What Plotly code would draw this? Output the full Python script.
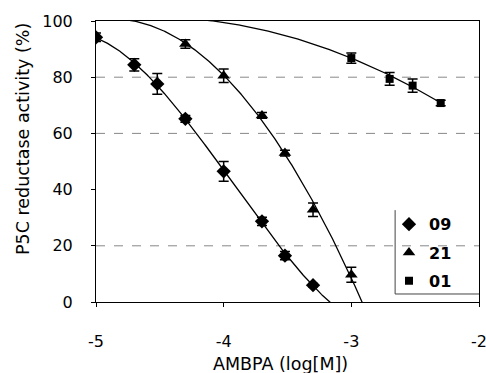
import numpy as np
import plotly.graph_objects as go

# ---- data ----
x09 = [-5.0, -4.7, -4.52, -4.3, -4.0, -3.7, -3.52, -3.3]
y09 = [94.2, 84.4, 77.6, 65.2, 46.5, 28.7, 16.5, 6.0]
e09 = [1.5, 2.2, 3.7, 1.2, 3.5, 1.5, 1.5, 0.6]

x21 = [-4.3, -4.0, -3.7, -3.52, -3.3, -3.0]
y21 = [91.8, 80.5, 66.4, 53.0, 32.8, 9.7]
e21 = [1.5, 2.4, 1.0, 1.0, 2.4, 2.7]

x01 = [-3.0, -2.7, -2.52, -2.3]
y01 = [86.8, 79.4, 77.0, 70.8]
e01 = [1.8, 2.3, 2.4, 1.0]

# trend curve of series 01 as traced on the picture (extends back beyond the data)
trend01_x = [-4.08, -3.0, -2.3]
trend01_y = [100.0, 86.8, 70.9]

names = ["09", "21", "01"]
symbols = ["diamond", "triangle-up", "square"]
msizes = [11, 11, 8]

x_ticks = [-5, -4, -3, -2]
x_ticktext = ["-5", "-4", "-3", "-2"]
y_ticks = [0, 20, 40, 60, 80, 100]
grid_levels = [20, 60, 80]

series = [(x09, y09, e09), (x21, y21, e21), (x01, y01, e01)]

# polynomial trend curves
fits = [
    (x09, y09, 3, (-5.0, -3.0)),
    (x21, y21, 2, (-4.9, -2.85)),
    (trend01_x, trend01_y, 2, (-4.3, -2.3)),
]

fig = go.Figure()

for xs, ys, deg, (a, b) in fits:
    coef = np.polyfit(xs, ys, deg)
    xx = np.linspace(a, b, 300)
    yy = np.polyval(coef, xx)
    fig.add_trace(go.Scatter(x=xx, y=yy, mode="lines",
                             line=dict(color="black", width=1.3),
                             showlegend=False, hoverinfo="skip"))

for (xs, ys, es), nm, sym, ms in zip(series, names, symbols, msizes):
    fig.add_trace(go.Scatter(
        x=xs, y=ys, mode="markers", name=nm, legendgroup=nm,
        marker=dict(symbol=sym, size=ms, color="black"),
        error_y=dict(type="data", array=es, visible=True,
                     color="black", thickness=1.5, width=5),
    ))

shapes = []
for g in grid_levels:
    shapes.append(dict(type="line", xref="paper", x0=0, x1=1, yref="y", y0=g, y1=g,
                       line=dict(color="#888888", width=1, dash="dash"), layer="below"))
# legend frame (left and bottom edges)
shapes.append(dict(type="line", xref="paper", yref="paper", x0=0.781, x1=0.781,
                   y0=0.0285, y1=0.327, line=dict(color="#444444", width=1)))
shapes.append(dict(type="line", xref="paper", yref="paper", x0=0.781, x1=1.0,
                   y0=0.0285, y1=0.0285, line=dict(color="#444444", width=1)))

font_family = "DejaVu Sans, Liberation Sans, Arial, sans-serif"

annotations = [
    dict(text="AMBPA (log[M])", xref="paper", yref="paper", x=0.483, y=-0.219,
         xanchor="center", yanchor="middle", showarrow=False,
         font=dict(size=17.5, family=font_family, color="black")),
    dict(text="P5C reductase activity (%)", xref="paper", yref="paper", x=-0.1906, y=0.58,
         xanchor="center", yanchor="middle", showarrow=False, textangle=-90,
         font=dict(size=17.5, family=font_family, color="black")),
]

fig.update_layout(
    width=486, height=373,
    margin=dict(l=96, r=7, t=21, b=71),
    paper_bgcolor="white", plot_bgcolor="white",
    font=dict(family=font_family, color="black", size=16),
    shapes=shapes,
    annotations=annotations,
    showlegend=True,
    legend=dict(x=0.765, y=0.337, xanchor="left", yanchor="top",
                bgcolor="rgba(0,0,0,0)", borderwidth=0,
                font=dict(size=16, family=font_family, weight="bold"),
                tracegroupgap=4.5, itemwidth=30),
    xaxis=dict(range=[-5, -2], tickvals=x_ticks, ticktext=x_ticktext,
               showgrid=False, zeroline=False, showline=True, linecolor="black",
               linewidth=1, mirror=True, ticks="outside", ticklen=4, tickcolor="black",
               tickfont=dict(size=16), automargin=False, ticklabeloverflow="allow",
               ticklabelstandoff=21),
    yaxis=dict(range=[0, 100], tickvals=y_ticks,
               showgrid=False, zeroline=False, showline=True, linecolor="black",
               linewidth=1, mirror=True, ticks="outside", ticklen=4, tickcolor="black",
               tickfont=dict(size=16), automargin=False, ticklabelstandoff=15),
)

fig.write_html(
    "out.html",
    config={"displayModeBar": False},
    post_script="document.body.style.margin='0';document.body.style.overflow='hidden';",
)
